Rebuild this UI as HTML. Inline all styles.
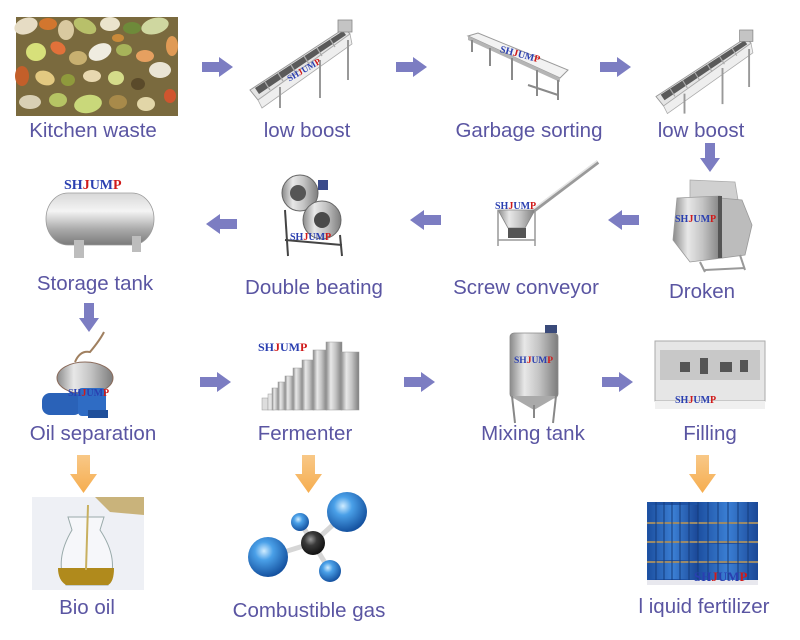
<!DOCTYPE html>
<html><head><meta charset="utf-8"><style>
html,body{margin:0;padding:0;background:#fff;}
svg{display:block;}
.t{font-family:"Liberation Sans",sans-serif;font-size:20.5px;fill:#5a55a2;}
.lg{font-family:"Liberation Serif",serif;font-weight:bold;}
</style></head><body>
<svg width="800" height="640" viewBox="0 0 800 640" xmlns="http://www.w3.org/2000/svg">
<defs>
<linearGradient id="silv" x1="0" y1="0" x2="0" y2="1">
<stop offset="0" stop-color="#d8d8d8"/><stop offset="0.35" stop-color="#f4f4f4"/><stop offset="0.7" stop-color="#a9a9a9"/><stop offset="1" stop-color="#7a7a7a"/></linearGradient>
<linearGradient id="silvh" x1="0" y1="0" x2="1" y2="0">
<stop offset="0" stop-color="#8a8a8a"/><stop offset="0.3" stop-color="#e8e8e8"/><stop offset="0.6" stop-color="#c4c4c4"/><stop offset="1" stop-color="#7d7d7d"/></linearGradient>
<linearGradient id="orng" x1="0" y1="0" x2="0" y2="1">
<stop offset="0" stop-color="#f8c887"/><stop offset="1" stop-color="#f6ad4f"/></linearGradient>
<radialGradient id="ball" cx="0.4" cy="0.35" r="0.65">
<stop offset="0" stop-color="#d0ecff"/><stop offset="0.35" stop-color="#4aa0e8"/><stop offset="1" stop-color="#1552a0"/></radialGradient>
<radialGradient id="cball" cx="0.4" cy="0.35" r="0.65">
<stop offset="0" stop-color="#9a9a9a"/><stop offset="0.4" stop-color="#3a3a3a"/><stop offset="1" stop-color="#111"/></radialGradient>
<linearGradient id="drum" x1="0" y1="0" x2="1" y2="0">
<stop offset="0" stop-color="#1c4fa0"/><stop offset="0.5" stop-color="#3b7fd4"/><stop offset="1" stop-color="#1a4796"/></linearGradient>
<g id="ra"><polygon points="0,5 17,5 17,0 31,10 17,20 17,15 0,15" fill="#7c7dc2"/></g>
<g id="la"><polygon points="31,5 14,5 14,0 0,10 14,20 14,15 31,15" fill="#7c7dc2"/></g>
<g id="da"><polygon points="5,0 15,0 15,15 20,15 10,29 0,15 5,15" fill="#7c7dc2"/></g>
<g id="oa"><polygon points="7,0 20,0 20,19 27,19 13.5,38 0,19 7,19" fill="url(#orng)"/></g>
<g id="conv">
 <polygon points="0,70 95,8 100,14 8,80" fill="#e4e4e4" stroke="#999" stroke-width="1"/>
 <polygon points="5,68 93,11 96,15 9,74" fill="#5a5a5a"/>
 <polygon points="8,80 100,14 102,24 12,88" fill="#eeeeee" stroke="#aaa" stroke-width="0.8"/>
 <line x1="30" y1="67" x2="30" y2="88" stroke="#999" stroke-width="2"/>
 <line x1="70" y1="40" x2="70" y2="78" stroke="#999" stroke-width="2"/>
 <line x1="98" y1="20" x2="98" y2="60" stroke="#999" stroke-width="2"/>
 <rect x="88" y="0" width="14" height="12" fill="#c4c4c4" stroke="#888" stroke-width="0.8"/>
 <g stroke="#aaa" stroke-width="1.2">
 <line x1="15" y1="62" x2="20" y2="70"/><line x1="28" y1="53" x2="33" y2="61"/><line x1="41" y1="45" x2="46" y2="53"/><line x1="54" y1="36" x2="59" y2="44"/><line x1="67" y1="28" x2="72" y2="36"/><line x1="80" y1="19" x2="85" y2="27"/></g>
</g>
</defs>

<!-- Row 1 -->
<rect x="16" y="17" width="162" height="99" fill="#7a6a3e"/>
<g>
<ellipse cx="26" cy="26" rx="12" ry="8" fill="#e6dcc4" transform="rotate(-20 26 26)"/>
<ellipse cx="48" cy="24" rx="9" ry="6" fill="#d2762e"/>
<ellipse cx="66" cy="30" rx="8" ry="10" fill="#d9c9a0"/>
<ellipse cx="85" cy="26" rx="12" ry="7" fill="#b8c06a" transform="rotate(25 85 26)"/>
<ellipse cx="110" cy="24" rx="10" ry="7" fill="#ebe4cc"/>
<ellipse cx="132" cy="28" rx="9" ry="6" fill="#6e8a3a"/>
<ellipse cx="155" cy="26" rx="14" ry="8" fill="#cfd7a0" transform="rotate(-15 155 26)"/>
<ellipse cx="172" cy="46" rx="6" ry="10" fill="#e09a55"/>
<ellipse cx="36" cy="52" rx="10" ry="9" fill="#d7e07a"/>
<ellipse cx="58" cy="48" rx="8" ry="6" fill="#e2713a" transform="rotate(30 58 48)"/>
<ellipse cx="78" cy="58" rx="9" ry="7" fill="#c8b070"/>
<ellipse cx="100" cy="52" rx="12" ry="8" fill="#efece0" transform="rotate(-25 100 52)"/>
<ellipse cx="124" cy="50" rx="8" ry="6" fill="#a7b35a"/>
<ellipse cx="145" cy="56" rx="9" ry="6" fill="#e6a060"/>
<ellipse cx="160" cy="70" rx="11" ry="8" fill="#e9e4d4"/>
<ellipse cx="22" cy="76" rx="7" ry="10" fill="#c35f2a"/>
<ellipse cx="45" cy="78" rx="10" ry="7" fill="#e3c981" transform="rotate(20 45 78)"/>
<ellipse cx="68" cy="80" rx="7" ry="6" fill="#8f9a3c"/>
<ellipse cx="92" cy="76" rx="9" ry="6" fill="#e8d8b0"/>
<ellipse cx="116" cy="78" rx="8" ry="7" fill="#d5dc8a"/>
<ellipse cx="138" cy="84" rx="7" ry="6" fill="#5a4a2a"/>
<ellipse cx="30" cy="102" rx="11" ry="7" fill="#d9d0b4"/>
<ellipse cx="58" cy="100" rx="9" ry="7" fill="#b6c464"/>
<ellipse cx="88" cy="104" rx="14" ry="9" fill="#c9d87a" transform="rotate(-10 88 104)"/>
<ellipse cx="118" cy="102" rx="9" ry="7" fill="#a88a4a"/>
<ellipse cx="146" cy="104" rx="9" ry="7" fill="#e2d6a8"/>
<ellipse cx="170" cy="96" rx="6" ry="7" fill="#d0552e"/>
<ellipse cx="118" cy="38" rx="6" ry="4" fill="#c98a3a"/>
</g>
<text class="t" x="93" y="137" text-anchor="middle">Kitchen waste</text>

<use href="#ra" x="202" y="57"/>
<use href="#conv" x="250" y="20"/>
<text class="lg" x="286" y="75" font-size="9" transform="rotate(-30 300 72)"><tspan fill="#2a3fb0">SH</tspan><tspan fill="#d01a1a">J</tspan><tspan fill="#2a3fb0">UM</tspan><tspan fill="#d01a1a">P</tspan></text>
<text class="t" x="307" y="137" text-anchor="middle">low boost</text>

<use href="#ra" x="396" y="57"/>
<polygon points="468,36 478,33 568,70 560,78" fill="#f2f2f2" stroke="#9a9a9a" stroke-width="1"/>
<polygon points="468,36 560,78 560,82 468,40" fill="#b5b5b5"/>
<g stroke="#8a8a8a" stroke-width="2">
<line x1="472" y1="40" x2="472" y2="52"/><line x1="490" y1="48" x2="490" y2="66"/><line x1="512" y1="58" x2="512" y2="80"/><line x1="537" y1="70" x2="537" y2="96"/><line x1="558" y1="80" x2="558" y2="100"/><line x1="528" y1="85" x2="558" y2="95"/></g>
<text class="lg" x="500" y="56" font-size="10" transform="rotate(15 515 52)"><tspan fill="#2a3fb0">SH</tspan><tspan fill="#d01a1a">J</tspan><tspan fill="#2a3fb0">UM</tspan><tspan fill="#d01a1a">P</tspan></text>
<text class="t" x="529" y="137" text-anchor="middle">Garbage sorting</text>

<use href="#ra" x="600" y="57"/>
<use href="#conv" x="656" y="30" transform="translate(656 30) scale(0.95) translate(-656 -30)"/>
<text class="t" x="701" y="137" text-anchor="middle">low boost</text>

<use href="#da" x="700" y="143"/>

<!-- Row 2 -->
<polygon points="690,180 735,182 738,200 690,198" fill="#d0d0d0" stroke="#aaa" stroke-width="0.8"/>
<polygon points="677,198 720,196 722,258 690,262 673,240" fill="url(#silvh)" stroke="#999" stroke-width="0.8"/>
<polygon points="720,198 742,200 752,225 745,255 722,258" fill="#bcbcbc" stroke="#999" stroke-width="0.8"/>
<rect x="718" y="196" width="4" height="62" fill="#555"/>
<g stroke="#999" stroke-width="2"><line x1="700" y1="262" x2="705" y2="272"/><line x1="740" y1="255" x2="745" y2="270"/><line x1="705" y1="270" x2="745" y2="268"/></g>
<text class="lg" x="675" y="222" font-size="10"><tspan fill="#2a3fb0">SH</tspan><tspan fill="#d01a1a">J</tspan><tspan fill="#2a3fb0">UM</tspan><tspan fill="#d01a1a">P</tspan></text>
<text class="t" x="702" y="298" text-anchor="middle">Droken</text>

<use href="#la" x="608" y="210"/>
<line x1="528" y1="215" x2="598" y2="162" stroke="#9a9a9a" stroke-width="4"/>
<line x1="528" y1="213" x2="597" y2="161" stroke="#e5e5e5" stroke-width="1.5"/>
<polygon points="498,210 535,210 525,228 508,228" fill="url(#silvh)" stroke="#888" stroke-width="0.8"/>
<g stroke="#999" stroke-width="1.5"><line x1="498" y1="210" x2="498" y2="246"/><line x1="535" y1="210" x2="535" y2="246"/><line x1="498" y1="240" x2="535" y2="240"/></g>
<rect x="508" y="228" width="18" height="10" fill="#555"/>
<text class="lg" x="495" y="209" font-size="10"><tspan fill="#2a3fb0">SH</tspan><tspan fill="#d01a1a">J</tspan><tspan fill="#2a3fb0">UM</tspan><tspan fill="#d01a1a">P</tspan></text>
<text class="t" x="526" y="294" text-anchor="middle">Screw conveyor</text>

<use href="#la" x="410" y="210"/>
<circle cx="300" cy="193" r="18" fill="url(#silvh)" stroke="#666" stroke-width="1"/>
<circle cx="298" cy="193" r="8" fill="#555"/>
<circle cx="322" cy="220" r="19" fill="url(#silvh)" stroke="#666" stroke-width="1"/>
<circle cx="322" cy="220" r="8" fill="#4a4a4a"/>
<rect x="318" y="180" width="10" height="10" fill="#3a4a8a"/>
<g stroke="#444" stroke-width="2"><line x1="285" y1="210" x2="288" y2="256"/><line x1="340" y1="235" x2="342" y2="256"/><line x1="285" y1="240" x2="342" y2="245"/></g>
<text class="lg" x="290" y="240" font-size="10"><tspan fill="#2a3fb0">SH</tspan><tspan fill="#d01a1a">J</tspan><tspan fill="#2a3fb0">UM</tspan><tspan fill="#d01a1a">P</tspan></text>
<text class="t" x="314" y="294" text-anchor="middle">Double beating</text>

<use href="#la" x="206" y="214"/>
<rect x="46" y="193" width="108" height="52" rx="22" ry="26" fill="url(#silv)" stroke="#9a9a9a" stroke-width="0.8"/>
<rect x="74" y="240" width="10" height="18" fill="#bdbdbd"/>
<rect x="132" y="236" width="9" height="16" fill="#bdbdbd"/>
<text class="lg" x="64" y="189" font-size="14"><tspan fill="#2a3fb0">SH</tspan><tspan fill="#d01a1a">J</tspan><tspan fill="#2a3fb0">UM</tspan><tspan fill="#d01a1a">P</tspan></text>
<text class="t" x="95" y="290" text-anchor="middle">Storage tank</text>

<use href="#da" x="79" y="303"/>

<!-- Row 3 -->
<ellipse cx="85" cy="378" rx="28" ry="16" fill="url(#silvh)" stroke="#8a6a5a" stroke-width="1"/>
<path d="M75 362 Q80 350 90 352 Q100 340 104 332" stroke="#a08060" stroke-width="2" fill="none"/>
<rect x="42" y="393" width="40" height="22" rx="8" fill="#2a62b8"/>
<rect x="78" y="388" width="28" height="28" rx="4" fill="#2f6cc4"/>
<rect x="88" y="410" width="20" height="8" fill="#1f4f9a"/>
<text class="lg" x="68" y="396" font-size="10"><tspan fill="#2a3fb0">SH</tspan><tspan fill="#d01a1a">J</tspan><tspan fill="#2a3fb0">UM</tspan><tspan fill="#d01a1a">P</tspan></text>
<text class="t" x="93" y="440" text-anchor="middle">Oil separation</text>

<use href="#ra" x="200" y="372"/>
<g stroke="#999" stroke-width="0.5">
<rect x="262" y="398" width="6" height="12" fill="#ddd"/>
<rect x="268" y="394" width="6" height="16" fill="#e4e4e4"/>
<rect x="272" y="388" width="7" height="22" fill="url(#silvh)"/>
<rect x="278" y="382" width="8" height="28" fill="url(#silvh)"/>
<rect x="285" y="376" width="9" height="34" fill="url(#silvh)"/>
<rect x="293" y="368" width="10" height="42" fill="url(#silvh)"/>
<rect x="302" y="360" width="12" height="50" fill="url(#silvh)"/>
<rect x="313" y="350" width="14" height="60" fill="url(#silvh)"/>
<rect x="326" y="342" width="16" height="68" fill="url(#silvh)"/>
<rect x="341" y="352" width="18" height="58" fill="url(#silvh)"/>
</g>
<text class="lg" x="258" y="351" font-size="12"><tspan fill="#2a3fb0">SH</tspan><tspan fill="#d01a1a">J</tspan><tspan fill="#2a3fb0">UM</tspan><tspan fill="#d01a1a">P</tspan></text>
<text class="t" x="305" y="440" text-anchor="middle">Fermenter</text>

<use href="#ra" x="404" y="372"/>
<rect x="510" y="333" width="48" height="65" rx="4" fill="url(#silvh)" stroke="#888" stroke-width="0.8"/>
<polygon points="510,396 558,396 534,410" fill="#aaa"/>
<g stroke="#888" stroke-width="2"><line x1="512" y1="396" x2="515" y2="423"/><line x1="556" y1="396" x2="553" y2="423"/><line x1="534" y1="405" x2="534" y2="418"/></g>
<rect x="545" y="325" width="12" height="8" fill="#3a4a7a"/>
<text class="lg" x="514" y="363" font-size="9.5"><tspan fill="#2a3fb0">SH</tspan><tspan fill="#d01a1a">J</tspan><tspan fill="#2a3fb0">UM</tspan><tspan fill="#d01a1a">P</tspan></text>
<text class="t" x="533" y="440" text-anchor="middle">Mixing tank</text>

<use href="#ra" x="602" y="372"/>
<rect x="655" y="341" width="110" height="60" fill="#e6e6e6" stroke="#aaa" stroke-width="1"/>
<rect x="660" y="350" width="100" height="30" fill="#c8c8c8"/>
<g fill="#555"><rect x="680" y="362" width="10" height="10"/><rect x="700" y="358" width="8" height="16"/><rect x="720" y="362" width="12" height="10"/><rect x="740" y="360" width="8" height="12"/></g>
<rect x="655" y="401" width="110" height="8" fill="#f0f0f0"/>
<text class="lg" x="675" y="403" font-size="10"><tspan fill="#2a3fb0">SH</tspan><tspan fill="#d01a1a">J</tspan><tspan fill="#2a3fb0">UM</tspan><tspan fill="#d01a1a">P</tspan></text>
<text class="t" x="710" y="440" text-anchor="middle">Filling</text>

<!-- Row 4 -->
<use href="#oa" x="70" y="455"/>
<use href="#oa" x="295" y="455"/>
<use href="#oa" x="689" y="455"/>

<rect x="32" y="497" width="112" height="93" fill="#eef0f5"/>
<path d="M95 497 L144 497 L144 515 L110 512 Z" fill="#b08a2a" opacity="0.6"/>
<path d="M68 517 L104 517 L100 530 Q120 560 108 585 L66 585 Q54 560 72 530 Z" fill="#f6f7fa" stroke="#9aa" stroke-width="1"/>
<path d="M58 568 L114 568 Q114 582 108 585 L66 585 Q58 580 58 568 Z" fill="#b08a1c"/>
<line x1="88" y1="505" x2="86" y2="570" stroke="#c8b060" stroke-width="2"/>
<text class="t" x="87" y="614" text-anchor="middle">Bio oil</text>

<g stroke="#d6d6d6" stroke-width="5">
<line x1="313" y1="543" x2="268" y2="557"/><line x1="313" y1="543" x2="347" y2="512"/><line x1="313" y1="543" x2="300" y2="522"/><line x1="313" y1="543" x2="330" y2="571"/></g>
<circle cx="300" cy="522" r="9" fill="url(#ball)"/>
<circle cx="347" cy="512" r="20" fill="url(#ball)"/>
<circle cx="313" cy="543" r="12" fill="url(#cball)"/>
<circle cx="330" cy="571" r="11" fill="url(#ball)"/>
<circle cx="268" cy="557" r="20" fill="url(#ball)"/>
<text class="t" x="309" y="617" text-anchor="middle">Combustible gas</text>

<rect x="647" y="502" width="111" height="83" fill="#1e52a4"/>
<g fill="url(#drum)">
<rect x="648" y="505" width="50" height="17"/><rect x="698" y="502" width="60" height="20"/>
<rect x="648" y="524" width="50" height="17"/><rect x="698" y="524" width="60" height="18"/>
<rect x="648" y="543" width="50" height="17"/><rect x="698" y="544" width="60" height="18"/>
<rect x="648" y="562" width="50" height="17"/><rect x="698" y="564" width="60" height="18"/>
</g>
<g fill="#9a8a6a"><rect x="647" y="522" width="111" height="2"/><rect x="647" y="541" width="111" height="2"/><rect x="647" y="561" width="111" height="2"/></g>
<g stroke="#143c7c" stroke-width="1">
<line x1="656" y1="502" x2="656" y2="585"/><line x1="664" y1="502" x2="664" y2="585"/><line x1="672" y1="502" x2="672" y2="585"/><line x1="680" y1="502" x2="680" y2="585"/><line x1="689" y1="502" x2="689" y2="585"/><line x1="698" y1="502" x2="698" y2="585"/><line x1="708" y1="502" x2="708" y2="585"/><line x1="718" y1="502" x2="718" y2="585"/><line x1="728" y1="502" x2="728" y2="585"/><line x1="738" y1="502" x2="738" y2="585"/><line x1="748" y1="502" x2="748" y2="585"/></g>
<rect x="647" y="580" width="111" height="5" fill="#e8e8ee"/>
<text class="lg" x="694" y="581" font-size="13"><tspan fill="#2a3fb0">SH</tspan><tspan fill="#d01a1a">J</tspan><tspan fill="#2a3fb0">UM</tspan><tspan fill="#d01a1a">P</tspan></text>
<text class="t" x="704" y="613" text-anchor="middle">l iquid fertilizer</text>
</svg>
</body></html>
